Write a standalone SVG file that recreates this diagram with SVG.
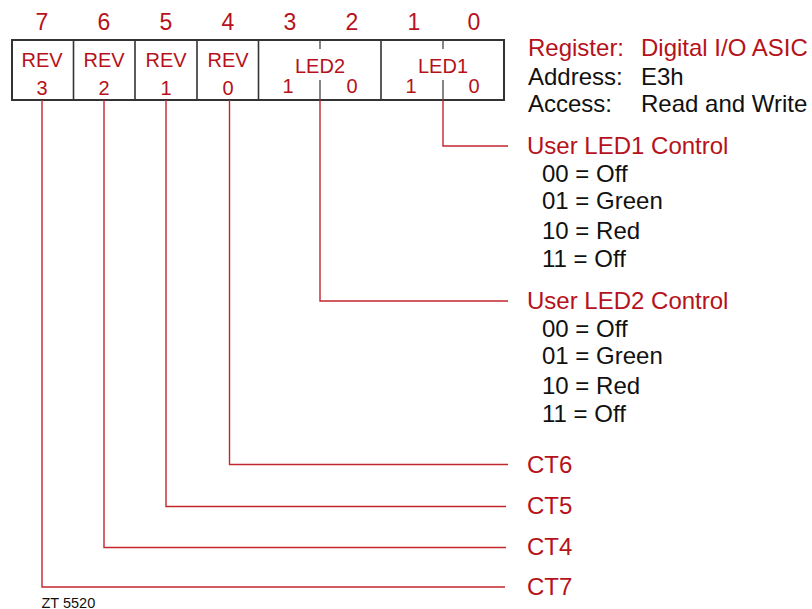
<svg xmlns="http://www.w3.org/2000/svg" width="812" height="609" viewBox="0 0 812 609">
<style>
text{font-family:"Liberation Sans",Arial,sans-serif}
.red{fill:#b5121b}
.blk{fill:#111}
.bit{font-size:23px;text-anchor:middle}
.cell{font-size:20px;text-anchor:middle}
.lbl{font-size:24px}
.box{fill:none;stroke:#333;stroke-width:2}
.div{stroke:#333;stroke-width:1.6}
.tick{stroke:#444;stroke-width:1.3}
.con{fill:none;stroke:#c1272d;stroke-width:1.4}
</style>
<rect width="812" height="609" fill="#fff"/>
<g id="register">
<g id="bits" class="red bit">
<text x="42" y="29.5">7</text>
<text x="104" y="29.5">6</text>
<text x="166" y="29.5">5</text>
<text x="228" y="29.5">4</text>
<text x="290" y="29.5">3</text>
<text x="352" y="29.5">2</text>
<text x="414" y="29.5">1</text>
<text x="474" y="29.5">0</text>
</g>
<rect class="box" x="12" y="40" width="492" height="60"/>
<line class="div" x1="73.5" y1="40" x2="73.5" y2="100"/>
<line class="div" x1="135" y1="40" x2="135" y2="100"/>
<line class="div" x1="197" y1="40" x2="197" y2="100"/>
<line class="div" x1="258.5" y1="40" x2="258.5" y2="100"/>
<line class="div" x1="381" y1="40" x2="381" y2="100" stroke="#888"/>
<line class="tick" x1="320" y1="40" x2="320" y2="49"/>
<line class="tick" x1="320" y1="80" x2="320" y2="100"/>
<line class="tick" x1="443" y1="40" x2="443" y2="49"/>
<line class="tick" x1="443" y1="80" x2="443" y2="100"/>
</g>
<g id="rev3" class="red cell"><text x="42" y="66.5">REV</text><text x="42" y="95">3</text></g>
<g id="rev2" class="red cell"><text x="104" y="66.5">REV</text><text x="104" y="95">2</text></g>
<g id="rev1" class="red cell"><text x="166" y="66.5">REV</text><text x="166" y="95">1</text></g>
<g id="rev0" class="red cell"><text x="228" y="66.5">REV</text><text x="228" y="95">0</text></g>
<g id="led2" class="red cell"><text x="320" y="72.5">LED2</text><text x="288" y="93">1</text><text x="352" y="93">0</text></g>
<g id="led1" class="red cell"><text x="443" y="72.5">LED1</text><text x="411" y="93">1</text><text x="474" y="93">0</text></g>
<g id="info" class="lbl">
<text class="red" x="528" y="56">Register:</text>
<text class="red" x="641" y="56">Digital I/O ASIC</text>
<text class="blk" x="528" y="84.5">Address:</text>
<text class="blk" x="641" y="84.5">E3h</text>
<text class="blk" x="528" y="112">Access:</text>
<text class="blk" x="641" y="112">Read and Write</text>
</g>
<g id="connectors">
<polyline class="con" points="443,100 443,146 508,146"/>
<polyline class="con" points="320,100 320,301 508,301"/>
<polyline class="con" points="229.5,100 229.5,464.5 508,464.5"/>
<polyline class="con" points="166,100 166,506.5 506,506.5"/>
<polyline class="con" points="104,100 104,547.5 506,547.5"/>
<polyline class="con" points="42,100 42,587 505,587"/>
</g>
<g id="user-led1" class="lbl">
<text class="red" x="527" y="154">User LED1 Control</text>
<text class="blk" x="542" y="182">00 = Off</text>
<text class="blk" x="542" y="209">01 = Green</text>
<text class="blk" x="542" y="239">10 = Red</text>
<text class="blk" x="542" y="266.5">11 = Off</text>
</g>
<g id="user-led2" class="lbl">
<text class="red" x="527" y="309">User LED2 Control</text>
<text class="blk" x="542" y="337">00 = Off</text>
<text class="blk" x="542" y="364">01 = Green</text>
<text class="blk" x="542" y="394">10 = Red</text>
<text class="blk" x="542" y="421.5">11 = Off</text>
</g>
<g id="ct6" class="lbl red"><text x="527" y="472.5">CT6</text></g>
<g id="ct5" class="lbl red"><text x="527" y="513.5">CT5</text></g>
<g id="ct4" class="lbl red"><text x="527" y="554.5">CT4</text></g>
<g id="ct7" class="lbl red"><text x="527" y="595">CT7</text></g>
<g id="caption"><text class="blk" x="41.5" y="607.5" font-size="14.5">ZT 5520</text></g>
</svg>
